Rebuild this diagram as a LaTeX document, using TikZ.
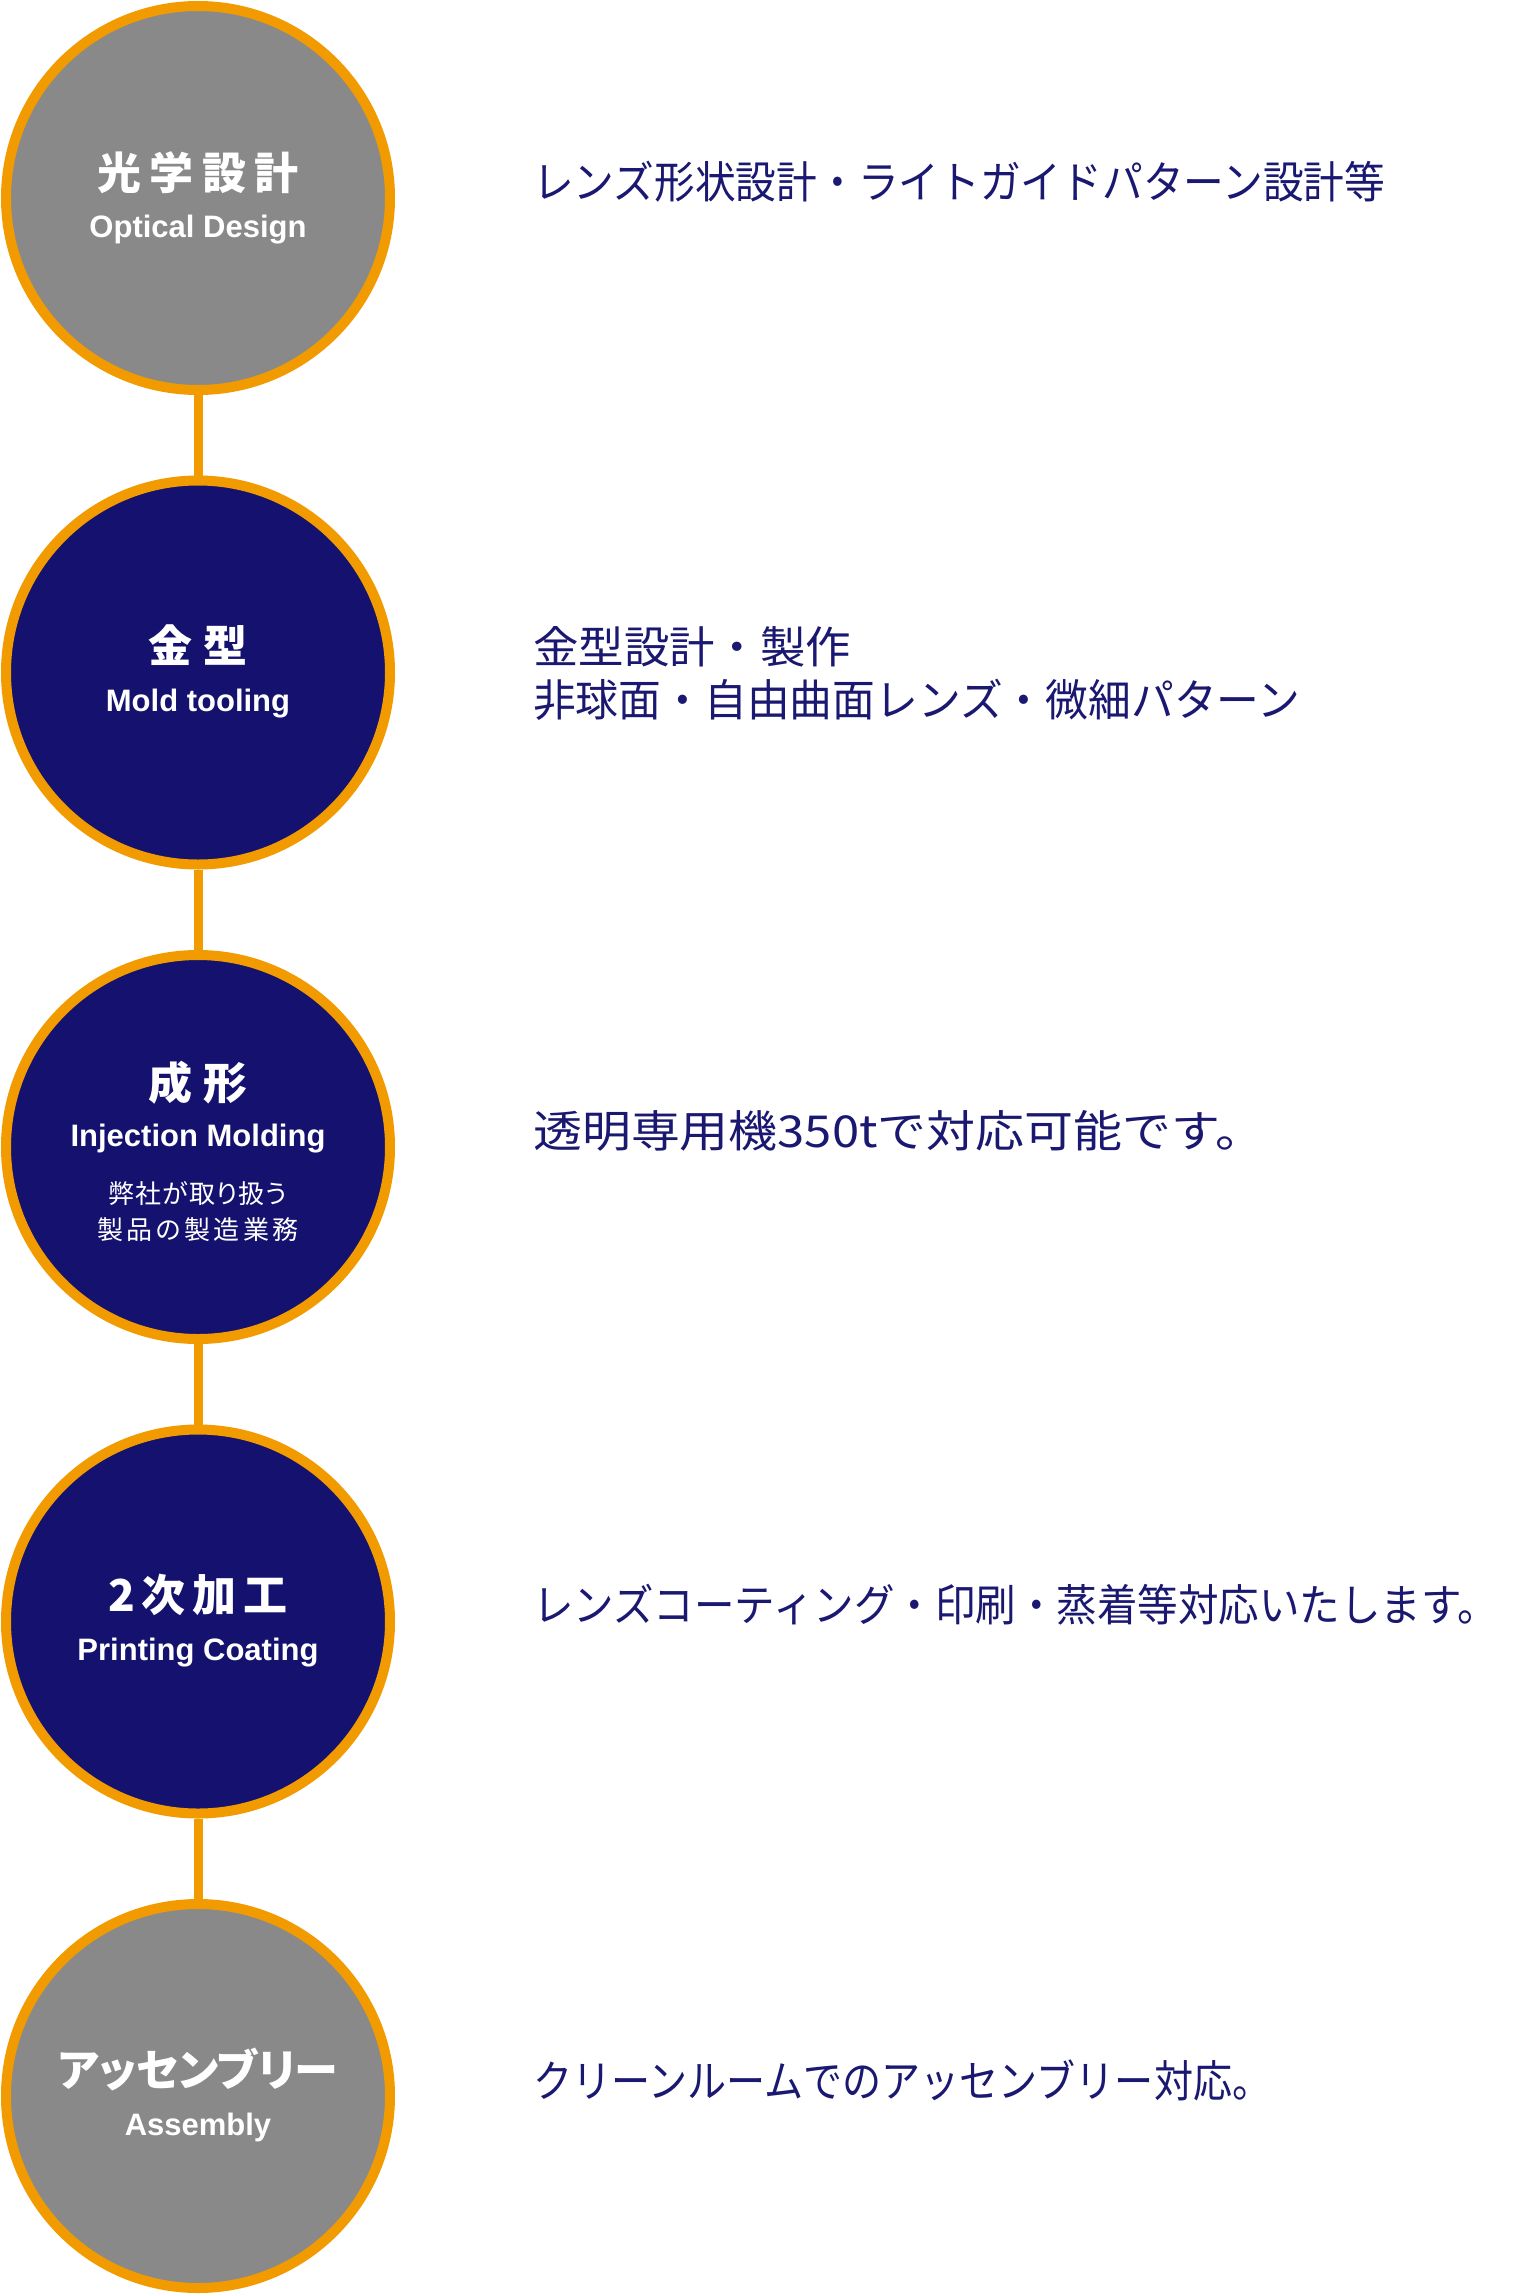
\documentclass[tikz,border=0pt]{standalone}
\usepackage{fontspec}
\usepackage{graphicx}
\setmainfont{Liberation Sans}
\newfontfamily\jp{Noto Sans CJK JP}
\newfontfamily\jpp{Noto Sans CJK JP}[RawFeature=+palt]
\definecolor{ora}{RGB}{242,155,0}
\definecolor{navy}{RGB}{20,18,110}
\definecolor{gry}{RGB}{137,137,137}
\definecolor{txtnavy}{RGB}{26,24,112}
\newcommand\fitto[2]{\resizebox{#1}{\height}{#2}}
\begin{document}
\begin{tikzpicture}[x=1pt,y=-1pt,
  stepcircle/.style={circle, minimum size=384pt, inner sep=0pt, line width=10pt, draw=ora},
  greycircle/.style={stepcircle, fill=gry},
  navycircle/.style={stepcircle, fill=navy},
  link/.style={draw=ora, line width=9pt},
  titletxt/.style={text=white, inner sep=0pt, anchor=center, font=\jp\bfseries\fontsize{44pt}{48pt}\selectfont},
  kanatitle/.style={text=white, inner sep=0pt, anchor=center, font=\jpp\bfseries\fontsize{44pt}{48pt}\selectfont},
  engtxt/.style={text=white, inner sep=0pt, anchor=base, font=\bfseries\fontsize{31pt}{34pt}\selectfont},
  subtxt/.style={text=white, inner sep=0pt, anchor=center, font=\jpp\fontsize{26pt}{30pt}\selectfont},
  desc/.style={text=txtnavy, inner sep=0pt, anchor=west, font=\jp\fontsize{44pt}{48pt}\selectfont}
]
\useasboundingbox (0,0) rectangle (1525,2294);
\fill[white] (0,0) rectangle (1525,2294);

% circles
\node[greycircle] (c1) at (198,198) {};
\node[navycircle] (c2) at (198,672.5) {};
\node[navycircle] (c3) at (198,1147) {};
\node[navycircle] (c4) at (198,1621.5) {};
\node[greycircle] (c5) at (198,2096) {};

% connectors
\draw[link] (c1.south) -- (c2.north);
\draw[link] (c2.south) -- (c3.north);
\draw[link] (c3.south) -- (c4.north);
\draw[link] (c4.south) -- (c5.north);

% circle texts
\node[titletxt] (t1) at (198,173) {\addfontfeature{LetterSpace=19}光学設計};
\node[engtxt] (e1) at (198,237) {Optical Design};

\node[titletxt] (t2) at (198,645) {\addfontfeature{LetterSpace=26}金型};
\node[engtxt] (e2) at (198,711) {Mold tooling};

\node[titletxt] (t3) at (198,1083) {\addfontfeature{LetterSpace=26}成形};
\node[engtxt] (e3) at (198,1146) {Injection Molding};
\node[subtxt] (s3a) at (198,1194) {\addfontfeature{LetterSpace=4}弊社が取り扱う};
\node[subtxt] (s3b) at (198,1230) {\addfontfeature{LetterSpace=13}製品の製造業務};

\node[titletxt] (t4) at (198,1595) {\addfontfeature{LetterSpace=16}2次加工};
\node[engtxt] (e4) at (198,1660) {Printing Coating};

\node[kanatitle] (t5) at (198,2070) {アッセンブリー};
\node[engtxt] (e5) at (198,2135) {Assembly};

% descriptions
\node[desc] (d1) at (533,182) {\fitto{852pt}{レンズ形状設計・ライトガイドパターン設計等}};
\node[desc] (d2a) at (533,647) {\fitto{318pt}{金型設計・製作}};
\node[desc] (d2b) at (533,700) {\fitto{767pt}{非球面・自由曲面レンズ・微細パターン}};
\node[desc] (d3) at (533,1131) {\fitto{731pt}{透明専用機350tで対応可能です。}};
\node[desc] (d4) at (533,1605) {\fitto{965pt}{レンズコーティング・印刷・蒸着等対応いたします。}};
\node[desc] (d5) at (533,2080) {\fitto{738pt}{クリーンルームでのアッセンブリー対応。}};
\end{tikzpicture}
\end{document}
